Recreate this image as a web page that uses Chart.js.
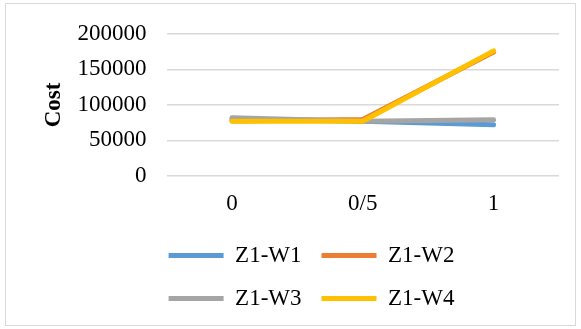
<!DOCTYPE html>
<html>
<head>
<meta charset="utf-8">
<script src="https://cdn.jsdelivr.net/npm/chart.js@4/dist/chart.umd.min.js"></script>
<style>
  html, body { margin: 0; padding: 0; background: #fff; }
  #wrap { position: relative; width: 581px; height: 329px; }
  #frame { position: absolute; left: 5px; top: 3px; width: 569px; height: 321px; border: 1px solid #d9d9d9; pointer-events: none; }
  canvas { display: block; }
</style>
</head>
<body>
<div id="wrap">
  <canvas id="c" width="581" height="329"></canvas>
  <div id="frame"></div>
</div>
<script>
const categories = ['0', '0/5', '1'];
const seriesNames = ['Z1-W1', 'Z1-W2', 'Z1-W3', 'Z1-W4'];
const z1w1 = [80000, 77000, 72000];
const z1w2 = [77500, 79500, 174500];
const z1w3 = [82000, 77000, 79000];
const z1w4 = [77000, 77000, 176000];
const yTicks = [0, 50000, 100000, 150000, 200000];
const colors = ['#5b9bd5', '#ed7d31', '#a5a5a5', '#ffc000'];

const seriesValues = [z1w1, z1w2, z1w3, z1w4];
const FONT = "'Liberation Serif', 'Times New Roman', serif";

// Keep the (non-full-width) legend's rows starting near the plot's left edge.
const legendShift = {
  id: 'legendShift',
  afterLayout(chart) {
    const lg = chart.legend;
    if (!lg) return;
    const dx = lg.left - chart.chartArea.left + lg.options.labels.padding - 2;
    lg.left -= dx;
    lg.right -= dx;
  }
};

new Chart(document.getElementById('c'), {
  type: 'line',
  data: {
    labels: categories,
    datasets: seriesNames.map((name, i) => ({
      label: name,
      data: seriesValues[i],
      order: seriesNames.length - i,
      borderColor: colors[i],
      backgroundColor: colors[i],
      borderWidth: 5,
      pointRadius: 0,
      pointHoverRadius: 0,
      tension: 0,
      borderCapStyle: 'round',
      borderJoinStyle: 'round',
      fill: false
    }))
  },
  plugins: [legendShift],
  options: {
    responsive: false,
    animation: false,
    events: [],
    layout: { padding: { left: 34, right: 22, top: 32, bottom: 9 } },
    plugins: {
      tooltip: { enabled: false },
      legend: {
        position: 'bottom',
        fullSize: false,
        align: 'start',
        labels: {
          color: '#000',
          font: { family: FONT, size: 23 },
          boxWidth: 55,
          boxHeight: 5,
          padding: 20,
          sort: (a, b) => a.datasetIndex - b.datasetIndex,
          generateLabels(chart) {
            const items = Chart.defaults.plugins.legend.labels.generateLabels(chart);
            items.forEach(it => { it.lineWidth = 0; });
            return items;
          }
        }
      }
    },
    scales: {
      x: {
        offset: true,
        grid: { display: false, drawTicks: false },
        border: { display: false },
        ticks: { color: '#000', font: { family: FONT, size: 23, lineHeight: 1 }, padding: 16, maxRotation: 0 },
        afterFit(scale) { scale.height -= 7; }
      },
      y: {
        min: 0,
        max: 200000,
        afterBuildTicks(axis) { axis.ticks = yTicks.map(v => ({ value: v })); },
        afterFit(scale) { scale.width -= 10; },
        grid: { color: '#d9d9d9', lineWidth: 1.5, drawTicks: false },
        border: { display: false },
        ticks: {
          color: '#000',
          font: { family: FONT, size: 23 },
          padding: 20,
          callback: (v) => String(v)
        },
        title: {
          display: true,
          text: 'Cost',
          color: '#000',
          font: { family: FONT, size: 23, weight: 'bold' },
          padding: { top: 6, bottom: 0 }
        }
      }
    }
  }
});
</script>
</body>
</html>
